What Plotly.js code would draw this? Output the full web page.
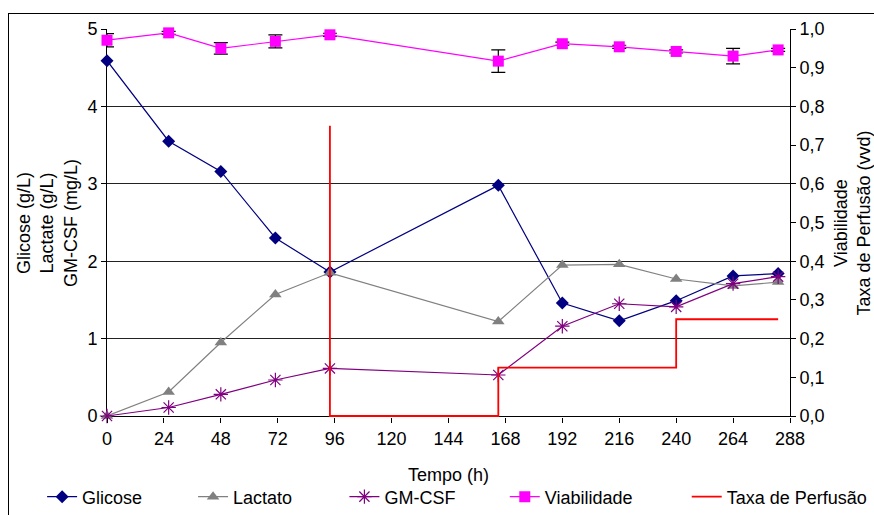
<!DOCTYPE html>
<html>
<head>
<meta charset="utf-8">
<script src="https://cdn.plot.ly/plotly-3.0.1.min.js"></script>
<style>
  html, body { margin: 0; padding: 0; background: #fff; overflow: hidden; }
  #chart { width: 874px; height: 515px; position: relative; }
  #frame { position: absolute; left: 8px; top: 13px; width: 1000px; height: 700px;
           border: 1.5px solid #000; pointer-events: none; box-sizing: border-box; }
</style>
</head>
<body>
<div id="chart"></div>
<div id="frame"></div>
<script>
// ---- data ----
const hours = [0, 26, 48, 71, 94, 165, 192, 216, 240, 264, 283];
const glicose = [4.59, 3.55, 3.16, 2.30, 1.86, 2.98, 1.46, 1.23, 1.49, 1.81, 1.84];
const lactato = [0, 0.31, 0.95, 1.57, 1.85, 1.22, 1.95, 1.96, 1.77, 1.68, 1.73];
const gmcsf = [0, 0.11, 0.28, 0.465, 0.615, 0.53, 1.16, 1.45, 1.41, 1.71, 1.80];
const viabilidade = [0.971, 0.990, 0.950, 0.968, 0.985, 0.917, 0.962, 0.954, 0.942, 0.930, 0.946];
const viabErro = [0.017, 0.004, 0.015, 0.017, 0.004, 0.029, 0.004, 0.004, 0.004, 0.020, 0.004];
const perfHours = [94, 94, 165, 165, 240, 240, 283];
const perfusao = [0.75, 0, 0, 0.125, 0.125, 0.25, 0.25];
const xTicks = [0, 24, 48, 72, 96, 120, 144, 168, 192, 216, 240, 264, 288];

const FONT = 'Liberation Sans, Arial, sans-serif';

const traces = [
  { name: 'Glicose', x: hours, y: glicose, type: 'scatter', mode: 'lines+markers',
    line: { color: '#000080', width: 1.2 }, marker: { symbol: 'diamond', size: 10, color: '#000080' },
    cliponaxis: false, legend: 'legend' },
  { name: 'Lactato', x: hours, y: lactato, type: 'scatter', mode: 'lines+markers',
    line: { color: '#808080', width: 1.2 }, marker: { symbol: 'triangle-up', size: 11, color: '#808080' },
    cliponaxis: false, legend: 'legend2' },
  { name: 'GM-CSF', x: hours, y: gmcsf, type: 'scatter', mode: 'lines+markers',
    line: { color: '#800080', width: 1.2 }, marker: { symbol: 'asterisk-open', size: 12, color: '#800080', line: { color: '#800080', width: 1.2 } },
    cliponaxis: false, legend: 'legend3' },
  { name: 'Viabilidade', x: hours, y: viabilidade, yaxis: 'y2', type: 'scatter', mode: 'lines+markers',
    line: { color: '#FF00FF', width: 1.2 }, marker: { symbol: 'square', size: 11, color: '#FF00FF' },
    error_y: { type: 'data', array: viabErro, visible: true, color: '#000', thickness: 1.2, width: 7 },
    cliponaxis: false, legend: 'legend4' },
  { name: 'Taxa de Perfusão', x: perfHours, y: perfusao, yaxis: 'y2', type: 'scatter', mode: 'lines',
    line: { color: '#FF0000', width: 1.8 }, cliponaxis: false, legend: 'legend5' }
];

function leg(x) {
  return { x: x, y: -0.206, xanchor: 'left', yanchor: 'middle', orientation: 'h',
           bgcolor: 'rgba(0,0,0,0)', font: { family: FONT, size: 18, color: '#000' } };
}

const layout = {
  width: 874, height: 515,
  margin: { l: 107, r: 84, t: 29, b: 98, autoexpand: false },
  paper_bgcolor: '#fff', plot_bgcolor: '#fff',
  separators: ',.',
  font: { family: FONT, size: 18, color: '#000' },
  showlegend: true,
  xaxis: {
    range: [0, 288], tickvals: xTicks, ticks: 'outside', ticklen: 5, tickcolor: '#000',
    showline: false, showgrid: false, zeroline: false,
    title: { text: 'Tempo (h)', font: { family: FONT, size: 18 }, standoff: 20 },
    tickfont: { family: FONT, size: 18 }
  },
  yaxis: {
    range: [-0.0129, 5], tickvals: [0, 1, 2, 3, 4, 5], ticks: 'outside', ticklen: 5, tickcolor: '#000',
    showline: true, linecolor: '#000', linewidth: 1, showgrid: true, gridcolor: '#222', gridwidth: 1,
    zeroline: true, zerolinecolor: '#000', zerolinewidth: 1, layer: 'below traces',
    title: { text: 'Glicose (g/L)<br>Lactate (g/L)<br>GM-CSF (mg/L)', font: { family: FONT, size: 18 }, standoff: 5 },
    tickfont: { family: FONT, size: 18 }
  },
  yaxis2: {
    range: [-0.00258, 1], tickvals: [0, 0.1, 0.2, 0.3, 0.4, 0.5, 0.6, 0.7, 0.8, 0.9, 1.0],
    tickformat: '.1f', overlaying: 'y', side: 'right',
    ticks: 'outside', ticklen: 5, tickcolor: '#000',
    showline: true, linecolor: '#000', linewidth: 1, showgrid: false, zeroline: false,
    layer: 'below traces',
    title: { text: 'Viabilidade<br>Taxa de Perfusão (vvd)', font: { family: FONT, size: 18 }, standoff: 22 },
    tickfont: { family: FONT, size: 18 }
  },
  legend: leg(-0.095),
  legend2: leg(0.126),
  legend3: leg(0.3476),
  legend4: leg(0.5824),
  legend5: leg(0.8488)
};

Plotly.newPlot('chart', traces, layout, { displayModeBar: false, staticPlot: true });
</script>
</body>
</html>
